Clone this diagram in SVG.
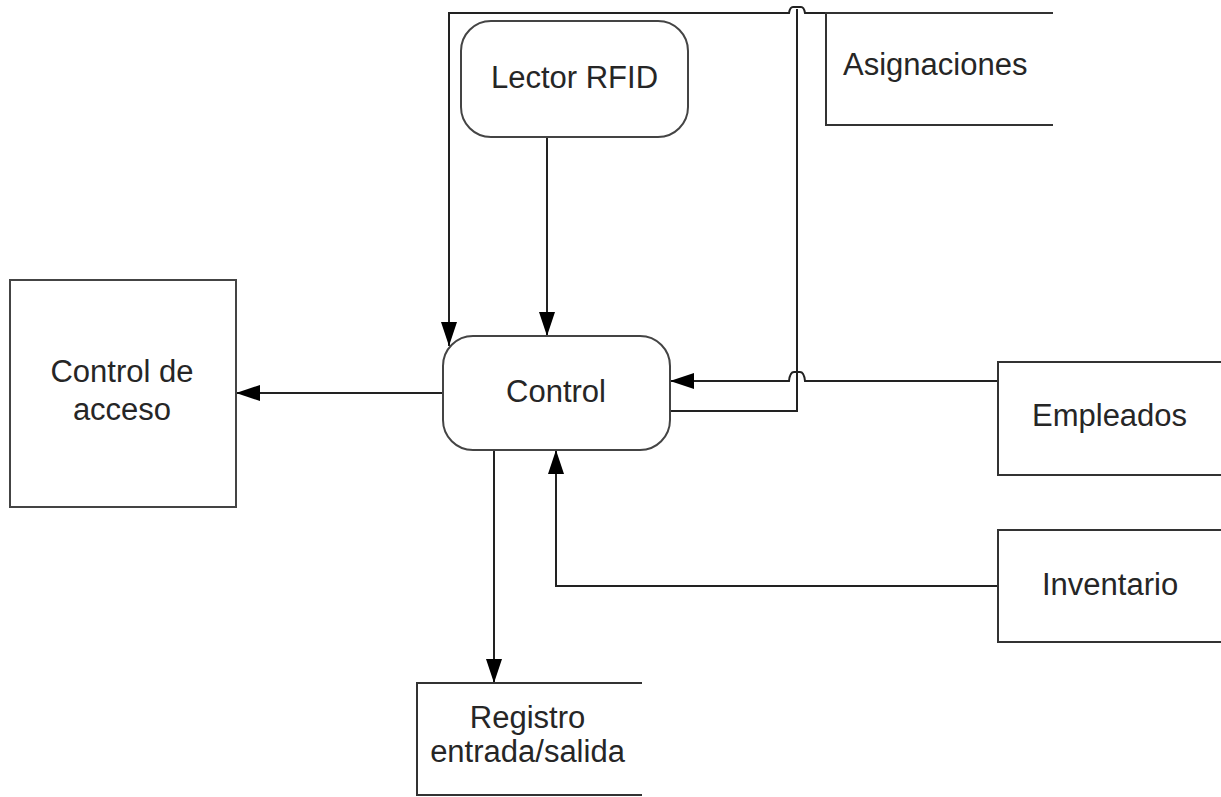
<svg xmlns="http://www.w3.org/2000/svg" width="1221" height="797" viewBox="0 0 1221 797">
<defs>
<marker id="arr" markerUnits="userSpaceOnUse" markerWidth="24" markerHeight="16" refX="24" refY="8" orient="auto">
<path d="M0,0 L24,8 L0,16 z" fill="#000"/>
</marker>
<style>
.box{fill:#fff;stroke:#444;stroke-width:2}
.open{fill:none;stroke:#333;stroke-width:2}
.con{fill:none;stroke:#222;stroke-width:2}
text{font-family:"Liberation Sans",Arial,sans-serif;font-size:31px;fill:#262626}
.c{text-anchor:middle}
</style>
</defs>
<rect width="1221" height="797" fill="#fff"/>
<g id="connectors">
<path class="con" d="M547,137 V336" marker-end="url(#arr)"/>
<path class="con" d="M443,393 H236" marker-end="url(#arr)"/>
<path class="con" d="M494,450 V683" marker-end="url(#arr)"/>
<path class="con" d="M998,586 H556 V450" marker-end="url(#arr)"/>
<path class="con" d="M998,381 H805 Q804,372 800,372 L794,372 Q790,372 789,381 H670" marker-end="url(#arr)"/>
<path class="con" d="M670,411 H797 V9"/>
<path class="con" d="M826,13 H805 Q804,7 801,7 L793,7 Q790,7 789,13 H449 V346" marker-end="url(#arr)"/>
</g>
<g id="lector">
<rect class="box" x="461" y="21" width="227" height="116" rx="30" ry="30"/>
<text class="c" x="574.5" y="88">Lector RFID</text>
</g>
<g id="control">
<rect class="box" x="443" y="336" width="227" height="114" rx="30" ry="30"/>
<text class="c" x="556" y="402">Control</text>
</g>
<g id="control-acceso">
<rect class="box" x="10" y="280" width="226" height="227"/>
<text class="c" x="122" y="382">Control de</text>
<text class="c" x="122" y="420">acceso</text>
</g>
<g id="asignaciones">
<path class="open" d="M1053,13 H826 V125 H1053"/>
<text x="843" y="75">Asignaciones</text>
</g>
<g id="empleados">
<path class="open" d="M1221,362 H998 V475 H1221"/>
<text x="1032" y="426">Empleados</text>
</g>
<g id="inventario">
<path class="open" d="M1221,530 H998 V642 H1221"/>
<text x="1042" y="595">Inventario</text>
</g>
<g id="registro">
<path class="open" d="M642,683 H417 V795 H642"/>
<text class="c" x="527.5" y="728">Registro</text>
<text class="c" x="527.5" y="762">entrada/salida</text>
</g>
</svg>
